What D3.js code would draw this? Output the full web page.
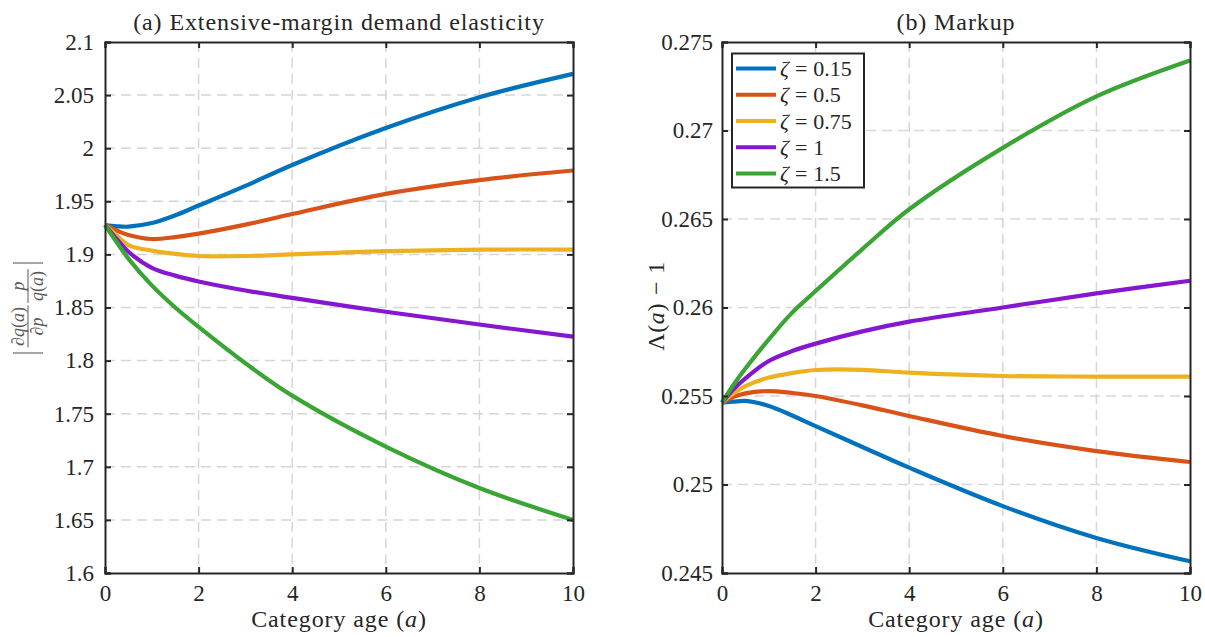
<!DOCTYPE html>
<html>
<head>
<meta charset="utf-8">
<script src="https://cdn.jsdelivr.net/npm/d3@7"></script>
<style>
  body { margin: 0; background: #fff; }
  svg { font-family: "Liberation Serif", "DejaVu Serif", serif; }
</style>
</head>
<body>
<div id="chart"></div>
<script>
// data
const ages = [0, 0.25, 0.5, 1, 1.5, 2, 3, 4, 6, 8, 10];
const zetaLabels = ["0.15", "0.5", "0.75", "1", "1.5"];
const colors = ["#0072BD", "#D95319", "#EDB120", "#8517D0", "#3AA535"];

// (a) elasticity
const elastBlue   = [1.9277, 1.9265, 1.9261, 1.9295, 1.9368, 1.9460, 1.9645, 1.9842, 2.0190, 2.0480, 2.0700];
const elastOrange = [1.9277, 1.9225, 1.9183, 1.9145, 1.9163, 1.9195, 1.9280, 1.9380, 1.9570, 1.9700, 1.9790];
const elastYellow = [1.9277, 1.9180, 1.9088, 1.9035, 1.9005, 1.8985, 1.8985, 1.9000, 1.9030, 1.9045, 1.9045];
const elastPurple = [1.9277, 1.9145, 1.9025, 1.8874, 1.8800, 1.8745, 1.8660, 1.8590, 1.8460, 1.8340, 1.8225];
const elastGreen  = [1.9277, 1.9115, 1.8960, 1.8708, 1.8500, 1.8317, 1.7975, 1.7670, 1.7190, 1.6800, 1.6500];

// (b) markup
const markBlue   = [0.25463, 0.25468, 0.25472, 0.25444, 0.25390, 0.25330, 0.25212, 0.25095, 0.24878, 0.24698, 0.24566];
const markOrange = [0.25463, 0.25495, 0.25515, 0.25528, 0.25517, 0.25500, 0.25447, 0.25387, 0.25274, 0.25189, 0.25127];
const markYellow = [0.25463, 0.25515, 0.25556, 0.25604, 0.25630, 0.25647, 0.25648, 0.25632, 0.25613, 0.25610, 0.25610];
const markPurple = [0.25463, 0.25540, 0.25600, 0.25698, 0.25754, 0.25796, 0.25865, 0.25920, 0.26000, 0.26080, 0.26151];
const markGreen  = [0.25463, 0.25565, 0.25655, 0.25820, 0.25971, 0.26093, 0.26330, 0.26555, 0.26902, 0.27193, 0.27396];

const xTicks = [0, 2, 4, 6, 8, 10];
const elastTicks = [1.6, 1.65, 1.7, 1.75, 1.8, 1.85, 1.9, 1.95, 2, 2.05, 2.1];
const markTicks = [0.245, 0.25, 0.255, 0.26, 0.265, 0.27, 0.275];

const width = 1205, height = 637;
const plotTop = 42, plotBottom = 573;
const axisColor = "#262626";

const svg = d3.select("#chart").append("svg")
    .attr("width", width)
    .attr("height", height);

function drawPanel(opts) {
    const x = d3.scaleLinear().domain([0, 10]).range([opts.left, opts.right]);
    const y = d3.scaleLinear().domain(opts.yDomain).range([plotBottom, plotTop]);
    const g = svg.append("g");

    // grid
    g.append("g").selectAll("line")
        .data(xTicks.slice(1, -1))
        .join("line")
        .attr("x1", d => x(d)).attr("x2", d => x(d))
        .attr("y1", plotTop).attr("y2", plotBottom)
        .attr("stroke", "#d6d6d6").attr("stroke-width", 1.5)
        .attr("stroke-dasharray", "10,6");
    g.append("g").selectAll("line")
        .data(opts.yTicks.slice(1, -1))
        .join("line")
        .attr("x1", opts.left).attr("x2", opts.right)
        .attr("y1", d => y(d)).attr("y2", d => y(d))
        .attr("stroke", "#d6d6d6").attr("stroke-width", 1.5)
        .attr("stroke-dasharray", "10,6");

    // curves
    const line = d3.line()
        .x((d, i) => x(ages[i]))
        .y(d => y(d))
        .curve(d3.curveCatmullRom.alpha(0.5));
    g.append("g").selectAll("path")
        .data(opts.series)
        .join("path")
        .attr("d", line)
        .attr("fill", "none")
        .attr("stroke", (d, i) => colors[i])
        .attr("stroke-width", 4.2)
        .attr("stroke-linejoin", "round");

    // axes, ticks pointing in
    const fmt = d => String(+d.toFixed(3));
    const xb = g.append("g").attr("transform", `translate(0,${plotBottom})`)
        .call(d3.axisBottom(x).tickValues(xTicks).tickSize(-6).tickPadding(12).tickFormat(fmt));
    const xt = g.append("g").attr("transform", `translate(0,${plotTop})`)
        .call(d3.axisTop(x).tickValues(xTicks).tickSize(-6).tickFormat(""));
    const yl = g.append("g").attr("transform", `translate(${opts.left},0)`)
        .call(d3.axisLeft(y).tickValues(opts.yTicks).tickSize(-6).tickPadding(opts.pad).tickFormat(fmt));
    const yr = g.append("g").attr("transform", `translate(${opts.right},0)`)
        .call(d3.axisRight(y).tickValues(opts.yTicks).tickSize(-6).tickFormat(""));
    [xb, xt, yl, yr].forEach(a => {
        a.select(".domain").attr("stroke", axisColor).attr("stroke-width", 2);
        a.selectAll(".tick line").attr("stroke", axisColor).attr("stroke-width", 2);
        a.selectAll(".tick text")
            .attr("fill", axisColor)
            .attr("font-family", "Liberation Serif")
            .attr("font-size", 23);
    });

    // title
    g.append("text")
        .attr("x", (opts.left + opts.right) / 2).attr("y", 30)
        .attr("text-anchor", "middle")
        .attr("font-size", 24)
        .attr("letter-spacing", 0.9)
        .attr("fill", axisColor)
        .text(opts.title);

    // x label
    const xl = g.append("text")
        .attr("x", (opts.left + opts.right) / 2).attr("y", 627)
        .attr("text-anchor", "middle")
        .attr("font-size", 24)
        .attr("letter-spacing", 0.9)
        .attr("fill", axisColor);
    xl.append("tspan").text("Category age (");
    xl.append("tspan").attr("font-style", "italic").text("a");
    xl.append("tspan").text(")");

    return {x, y, g};
}

const leftPanel = drawPanel({
    left: 105, right: 573,
    yDomain: [1.6, 2.1], yTicks: elastTicks, pad: 11,
    series: [elastBlue, elastOrange, elastYellow, elastPurple, elastGreen],
    title: "(a) Extensive-margin demand elasticity"
});

const rightPanel = drawPanel({
    left: 722, right: 1190,
    yDomain: [0.245, 0.275], yTicks: markTicks, pad: 9,
    series: [markBlue, markOrange, markYellow, markPurple, markGreen],
    title: "(b) Markup"
});

// left y label: |dq(a)/dp * p/q(a)|
const lab = svg.append("g")
    .attr("transform", "translate(28,308) rotate(-90)")
    .attr("fill", "#5a5a5a")
    .attr("font-size", 18);
[-45, 45].forEach(bx => {
    lab.append("line")
        .attr("x1", bx).attr("x2", bx).attr("y1", -15).attr("y2", 15)
        .attr("stroke", "#808080").attr("stroke-width", 1.4);
});
function fraction(cx, num, den, w) {
    lab.append("line")
        .attr("x1", cx - w / 2).attr("x2", cx + w / 2).attr("y1", 0).attr("y2", 0)
        .attr("stroke", "#808080").attr("stroke-width", 1.3);
    const n = lab.append("text").attr("x", cx).attr("y", -4).attr("text-anchor", "middle");
    num.forEach(p => n.append("tspan").attr("font-style", p[1] ? "italic" : "normal").text(p[0]));
    const d = lab.append("text").attr("x", cx).attr("y", 15).attr("text-anchor", "middle");
    den.forEach(p => d.append("tspan").attr("font-style", p[1] ? "italic" : "normal").text(p[0]));
}
fraction(-18.5, [["∂", 0], ["q", 1], ["(", 0], ["a", 1], [")", 0]], [["∂", 0], ["p", 1]], 42);
fraction(22, [["p", 1]], [["q", 1], ["(", 0], ["a", 1], [")", 0]], 34);

// right y label
const rl = svg.append("text")
    .attr("transform", "translate(664,306) rotate(-90)")
    .attr("text-anchor", "middle")
    .attr("font-size", 24)
    .attr("letter-spacing", 0.6)
    .attr("fill", axisColor);
rl.append("tspan").text("Λ(");
rl.append("tspan").attr("font-style", "italic").text("a");
rl.append("tspan").text(")");
rl.append("tspan").attr("dx", 8).text("−");
rl.append("tspan").attr("dx", 7).text("1");

// legend
const legend = svg.append("g");
legend.append("rect")
    .attr("x", 732).attr("y", 53.5)
    .attr("width", 132).attr("height", 134)
    .attr("fill", "#fff")
    .attr("stroke", axisColor).attr("stroke-width", 2);
const legRow = d3.scaleLinear().domain([0, 4]).range([68.5, 173.5]);
const items = legend.selectAll("g.item")
    .data(zetaLabels)
    .join("g")
    .attr("class", "item")
    .attr("transform", (d, i) => `translate(0,${legRow(i)})`);
items.append("line")
    .attr("x1", 736).attr("x2", 776)
    .attr("stroke", (d, i) => colors[i])
    .attr("stroke-width", 4);
const lt = items.append("text")
    .attr("x", 780).attr("y", 7.5)
    .attr("font-size", 22)
    .attr("fill", axisColor);
lt.append("tspan").attr("font-style", "italic").text("ζ");
lt.append("tspan").attr("dx", 6).text("=");
lt.append("tspan").attr("dx", 6).text(d => d);
</script>
</body>
</html>
